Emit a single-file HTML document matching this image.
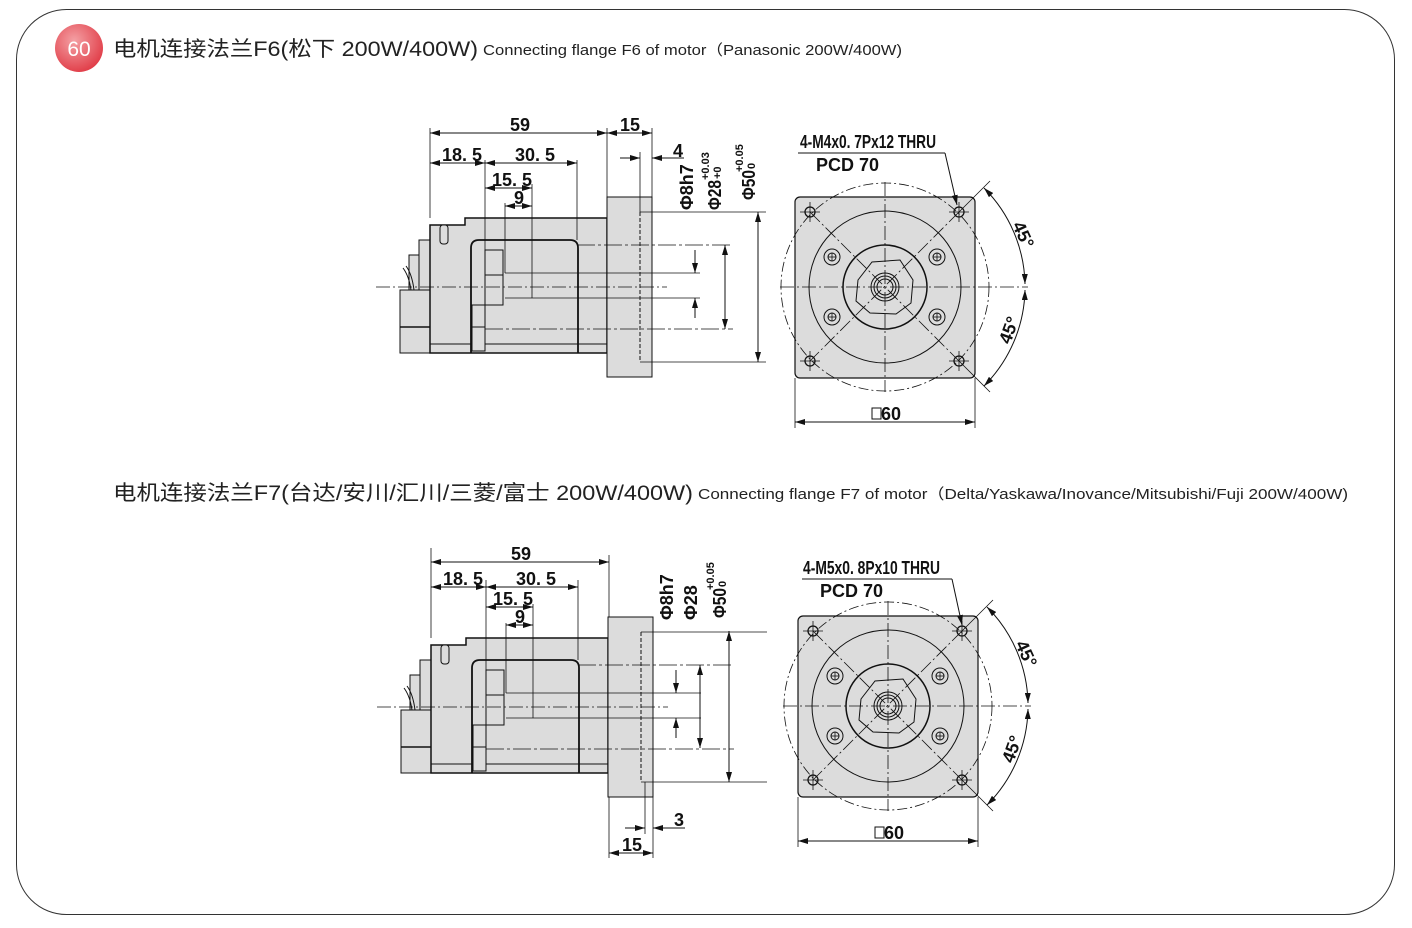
<!DOCTYPE html>
<html><head><meta charset="utf-8"><style>
html,body{margin:0;padding:0;background:#fff;}
svg{display:block;}
.t{font-family:"Liberation Sans Narrow","Liberation Sans",sans-serif;font-size:18px;font-weight:bold;fill:#111;}
.s{font-family:"Liberation Sans Narrow","Liberation Sans",sans-serif;font-size:11px;font-weight:bold;fill:#111;}
.cn{font-family:"Liberation Sans","Noto Sans CJK SC",sans-serif;fill:#222;}
</style></head><body>
<svg width="1412" height="928" viewBox="0 0 1412 928" xmlns="http://www.w3.org/2000/svg">
<defs>
<marker id="a" viewBox="0 0 10 6" refX="10" refY="3" markerWidth="10" markerHeight="6" markerUnits="userSpaceOnUse" orient="auto-start-reverse"><path d="M0,0 L10,3 L0,6 Z" fill="#111"/></marker>
<radialGradient id="rg" cx="0.4" cy="0.35" r="0.7"><stop offset="0" stop-color="#f4a0a4"/><stop offset="1" stop-color="#e03a45"/></radialGradient>

<g id="side">
  <rect x="400" y="290" width="30" height="63" fill="#dcdcdc" stroke="#111" stroke-width="1"/>
  <line x1="400" y1="327" x2="430" y2="327" stroke="#111" stroke-width="1.5"/>
  <rect x="409" y="255" width="10" height="35" fill="#dcdcdc" stroke="#111"/>
  <rect x="419" y="240" width="11" height="50" fill="#dcdcdc" stroke="#111"/>
  <path d="M403,268 q6,8 8,22 M406,266 q6,8 8,24" stroke="#111" fill="none"/>
  <path d="M430,353 V225 H465 V218 H607 V353 Z" fill="#dcdcdc" stroke="#111" stroke-width="1.5"/>
  <rect x="440" y="225" width="8" height="19" rx="3" fill="#dcdcdc" stroke="#111"/>
  <line x1="430" y1="344" x2="607" y2="344" stroke="#111"/>
  <path d="M471,353 V248 Q471,240 479,240 H570 Q578,240 578,248 V353" fill="none" stroke="#111" stroke-width="1.8"/>
  <rect x="485" y="250" width="18" height="55" fill="#dcdcdc" stroke="#111"/>
  <line x1="485" y1="275" x2="503" y2="275" stroke="#111"/>
  <rect x="472" y="305" width="13" height="46" fill="#dcdcdc" stroke="#111"/>
  <line x1="472" y1="327" x2="485" y2="327" stroke="#111"/>
  <rect x="607" y="197" width="45" height="180" fill="#dcdcdc" stroke="#111" stroke-width="1"/>
  <line x1="640" y1="212" x2="640" y2="362" stroke="#111" stroke-dasharray="4,2"/>
  <line x1="376" y1="287" x2="667" y2="287" stroke="#111" stroke-width="0.8" stroke-dasharray="14,3,2,3"/>
  <g stroke="#111" stroke-width="0.8" fill="none">
    <line x1="505" y1="273" x2="700" y2="273"/><line x1="505" y1="298" x2="700" y2="298"/>
    <line x1="577" y1="245" x2="733" y2="245" stroke-dasharray="18,3,3,3"/><line x1="485" y1="329" x2="733" y2="329" stroke-dasharray="18,3,3,3"/>
    <line x1="640" y1="212" x2="766" y2="212"/><line x1="640" y1="362" x2="766" y2="362"/>
    <line x1="430" y1="128" x2="430" y2="218"/>
    <line x1="485" y1="160" x2="485" y2="250"/>
    <line x1="577" y1="160" x2="577" y2="240"/>
    <line x1="532" y1="184" x2="532" y2="298"/>
    <line x1="505" y1="203" x2="505" y2="273"/>
  </g>
</g>

<g id="front">
  <rect x="795" y="197" width="180" height="181" rx="5" fill="#dcdcdc" stroke="#111" stroke-width="1.2"/>
  <circle cx="885" cy="287" r="104" fill="none" stroke="#111" stroke-width="0.8" stroke-dasharray="10,3,2,3"/>
  <circle cx="885" cy="287" r="76" fill="none" stroke="#111" stroke-width="1"/>
  <circle cx="885" cy="287" r="42" fill="none" stroke="#111" stroke-width="1.5"/>
  <path d="M858,280 L872,262 L900,260 L913,280 L911,303 L896,314 L870,313 L856,301 Z" fill="none" stroke="#111" stroke-width="1"/>
  <circle cx="885" cy="287" r="14" fill="none" stroke="#111"/>
  <circle cx="885" cy="287" r="11" fill="none" stroke="#111"/>
  <circle cx="885" cy="287" r="8" fill="none" stroke="#111"/>
  <g stroke="#111" stroke-width="0.8" fill="none">
    <line x1="780" y1="287" x2="1028" y2="287" stroke-dasharray="14,3,2,3"/>
    <line x1="885" y1="182" x2="885" y2="392" stroke-dasharray="14,3,2,3"/>
    <line x1="810" y1="212" x2="959" y2="361" stroke-dasharray="14,3,2,3"/>
    <line x1="959" y1="212" x2="810" y2="361" stroke-dasharray="14,3,2,3"/>
    <line x1="959" y1="212" x2="990" y2="181"/>
    <line x1="959" y1="361" x2="990" y2="392"/>
    <line x1="800" y1="212" x2="820" y2="212"/><line x1="810" y1="202" x2="810" y2="222"/>
    <line x1="949" y1="212" x2="969" y2="212"/><line x1="959" y1="202" x2="959" y2="222"/>
    <line x1="800" y1="361" x2="820" y2="361"/><line x1="810" y1="351" x2="810" y2="371"/>
    <line x1="949" y1="361" x2="969" y2="361"/><line x1="959" y1="351" x2="959" y2="371"/>
  </g>
  <g fill="none" stroke="#111" stroke-width="1.3">
    <circle cx="810" cy="212" r="5"/><circle cx="959" cy="212" r="5"/>
    <circle cx="810" cy="361" r="5"/><circle cx="959" cy="361" r="5"/>
  </g>
  <g fill="none" stroke="#111">
    <circle cx="832" cy="257" r="8"/><circle cx="832" cy="257" r="4"/>
    <circle cx="937" cy="257" r="8"/><circle cx="937" cy="257" r="4"/>
    <circle cx="832" cy="317" r="8"/><circle cx="832" cy="317" r="4"/>
    <circle cx="937" cy="317" r="8"/><circle cx="937" cy="317" r="4"/>
  </g>
  <g stroke="#111" stroke-width="0.8">
    <line x1="828" y1="257" x2="836" y2="257"/><line x1="832" y1="253" x2="832" y2="261"/>
    <line x1="933" y1="257" x2="941" y2="257"/><line x1="937" y1="253" x2="937" y2="261"/>
    <line x1="828" y1="317" x2="836" y2="317"/><line x1="832" y1="313" x2="832" y2="321"/>
    <line x1="933" y1="317" x2="941" y2="317"/><line x1="937" y1="313" x2="937" y2="321"/>
  </g>
  <path d="M984,188 A140,140 0 0 1 1025,284" fill="none" stroke="#111" marker-start="url(#a)" marker-end="url(#a)"/>
  <path d="M1025,290 A140,140 0 0 1 984,386" fill="none" stroke="#111" marker-start="url(#a)" marker-end="url(#a)"/>
  <text class="t" transform="translate(1012,225) rotate(65)">45°</text>
  <text class="t" transform="translate(1010,345) rotate(-70)">45°</text>
  <g stroke="#111" stroke-width="0.8"><line x1="795" y1="378" x2="795" y2="428"/><line x1="975" y1="378" x2="975" y2="428"/></g>
  <line x1="795" y1="422" x2="975" y2="422" stroke="#111" marker-start="url(#a)" marker-end="url(#a)"/>
  <rect x="872" y="408" width="9" height="11" fill="none" stroke="#111"/>
  <text class="t" x="881" y="420">60</text>
</g>
</defs>

<rect x="16.5" y="9.5" width="1378" height="905" rx="50" fill="none" stroke="#333" stroke-width="1"/>

<circle cx="79" cy="48" r="24" fill="url(#rg)"/>
<text x="79" y="56" text-anchor="middle" font-family="Liberation Sans,sans-serif" font-size="21" fill="#fff">60</text>
<text class="cn" x="113" y="56" font-size="21" textLength="365" lengthAdjust="spacingAndGlyphs">电机连接法兰F6(松下 200W/400W)</text>
<text class="cn" x="483" y="55" font-size="15" textLength="419" lengthAdjust="spacingAndGlyphs">Connecting flange F6 of motor（Panasonic 200W/400W)</text>

<text class="cn" x="113" y="500" font-size="21" textLength="580" lengthAdjust="spacingAndGlyphs">电机连接法兰F7(台达/安川/汇川/三菱/富士 200W/400W)</text>
<text class="cn" x="698" y="499" font-size="15" textLength="650" lengthAdjust="spacingAndGlyphs">Connecting flange F7 of motor（Delta/Yaskawa/Inovance/Mitsubishi/Fuji 200W/400W)</text>

<!-- TOP -->
<use href="#side"/>
<g stroke="#111" stroke-width="0.8">
  <line x1="607" y1="128" x2="607" y2="197"/><line x1="652" y1="128" x2="652" y2="197"/>
  <line x1="640" y1="152" x2="640" y2="212"/>
</g>
<line x1="430" y1="133" x2="607" y2="133" stroke="#111" marker-start="url(#a)" marker-end="url(#a)"/>
<line x1="607" y1="133" x2="652" y2="133" stroke="#111" marker-start="url(#a)" marker-end="url(#a)"/>
<line x1="430" y1="163" x2="485" y2="163" stroke="#111" marker-start="url(#a)" marker-end="url(#a)"/>
<line x1="485" y1="163" x2="577" y2="163" stroke="#111" marker-start="url(#a)" marker-end="url(#a)"/>
<line x1="485" y1="188" x2="532" y2="188" stroke="#111" marker-start="url(#a)" marker-end="url(#a)"/>
<line x1="505" y1="206" x2="532" y2="206" stroke="#111" marker-start="url(#a)" marker-end="url(#a)"/>
<line x1="620" y1="158" x2="640" y2="158" stroke="#111" marker-end="url(#a)"/>
<line x1="684" y1="158" x2="652" y2="158" stroke="#111" marker-end="url(#a)"/>
<line x1="695" y1="250" x2="695" y2="273" stroke="#111" marker-end="url(#a)"/>
<line x1="695" y1="318" x2="695" y2="298" stroke="#111" marker-end="url(#a)"/>
<line x1="725" y1="245" x2="725" y2="329" stroke="#111" marker-start="url(#a)" marker-end="url(#a)"/>
<line x1="758" y1="212" x2="758" y2="362" stroke="#111" marker-start="url(#a)" marker-end="url(#a)"/>
<text class="t" x="510" y="131">59</text>
<text class="t" x="620" y="131">15</text>
<text class="t" x="442" y="161">18. 5</text>
<text class="t" x="515" y="161">30. 5</text>
<text class="t" x="492" y="186">15. 5</text>
<text class="t" x="514" y="204">9</text>
<text class="t" x="673" y="157">4</text>
<text class="t" transform="translate(693,210) rotate(-90)">Φ8h7</text>
<text class="t" transform="translate(721,210) rotate(-90)" textLength="30" lengthAdjust="spacingAndGlyphs">Φ28</text>
<text class="s" transform="translate(721,179) rotate(-90)">+0</text>
<text class="s" transform="translate(709,180) rotate(-90)">+0.03</text>
<text class="t" transform="translate(755,200) rotate(-90)" textLength="30" lengthAdjust="spacingAndGlyphs">Φ50</text>
<text class="s" transform="translate(755,169) rotate(-90)">0</text>
<text class="s" transform="translate(743,172) rotate(-90)">+0.05</text>
<use href="#front"/>
<text class="t" x="800" y="148" textLength="136" lengthAdjust="spacingAndGlyphs">4-M4x0. 7Px12  THRU</text>
<line x1="798" y1="153" x2="945" y2="153" stroke="#111"/>
<line x1="945" y1="153" x2="957" y2="205" stroke="#111" marker-end="url(#a)"/>
<text class="t" x="816" y="171">PCD  70</text>

<!-- BOTTOM -->
<use href="#side" transform="translate(1,420)"/>
<g stroke="#111" stroke-width="0.8">
  <line x1="609" y1="555" x2="609" y2="617"/>
  <line x1="609" y1="797" x2="609" y2="858"/><line x1="653" y1="797" x2="653" y2="858"/>
  <line x1="645" y1="782" x2="645" y2="834"/>
</g>
<line x1="431" y1="562" x2="609" y2="562" stroke="#111" marker-start="url(#a)" marker-end="url(#a)"/>
<line x1="431" y1="587" x2="486" y2="587" stroke="#111" marker-start="url(#a)" marker-end="url(#a)"/>
<line x1="486" y1="587" x2="578" y2="587" stroke="#111" marker-start="url(#a)" marker-end="url(#a)"/>
<line x1="486" y1="607" x2="533" y2="607" stroke="#111" marker-start="url(#a)" marker-end="url(#a)"/>
<line x1="506" y1="625" x2="533" y2="625" stroke="#111" marker-start="url(#a)" marker-end="url(#a)"/>
<line x1="676" y1="670" x2="676" y2="693" stroke="#111" marker-end="url(#a)"/>
<line x1="676" y1="738" x2="676" y2="718" stroke="#111" marker-end="url(#a)"/>
<line x1="700" y1="665" x2="700" y2="748" stroke="#111" marker-start="url(#a)" marker-end="url(#a)"/>
<line x1="729" y1="631" x2="729" y2="782" stroke="#111" marker-start="url(#a)" marker-end="url(#a)"/>
<line x1="625" y1="828" x2="645" y2="828" stroke="#111" marker-end="url(#a)"/>
<line x1="685" y1="828" x2="653" y2="828" stroke="#111" marker-end="url(#a)"/>
<line x1="609" y1="853" x2="653" y2="853" stroke="#111" marker-start="url(#a)" marker-end="url(#a)"/>
<text class="t" x="511" y="560">59</text>
<text class="t" x="443" y="585">18. 5</text>
<text class="t" x="516" y="585">30. 5</text>
<text class="t" x="493" y="605">15. 5</text>
<text class="t" x="515" y="623">9</text>
<text class="t" x="674" y="826">3</text>
<text class="t" x="622" y="851">15</text>
<text class="t" transform="translate(673,620) rotate(-90)">Φ8h7</text>
<text class="t" transform="translate(697,620) rotate(-90)">Φ28</text>
<text class="t" transform="translate(726,618) rotate(-90)" textLength="30" lengthAdjust="spacingAndGlyphs">Φ50</text>
<text class="s" transform="translate(726,587) rotate(-90)">0</text>
<text class="s" transform="translate(714,590) rotate(-90)">+0.05</text>
<use href="#front" transform="translate(3,419)"/>
<text class="t" x="803" y="574" textLength="137" lengthAdjust="spacingAndGlyphs">4-M5x0. 8Px10  THRU</text>
<line x1="802" y1="579" x2="952" y2="579" stroke="#111"/>
<line x1="952" y1="579" x2="962" y2="625" stroke="#111" marker-end="url(#a)"/>
<text class="t" x="820" y="597">PCD  70</text>
</svg>
</body></html>
